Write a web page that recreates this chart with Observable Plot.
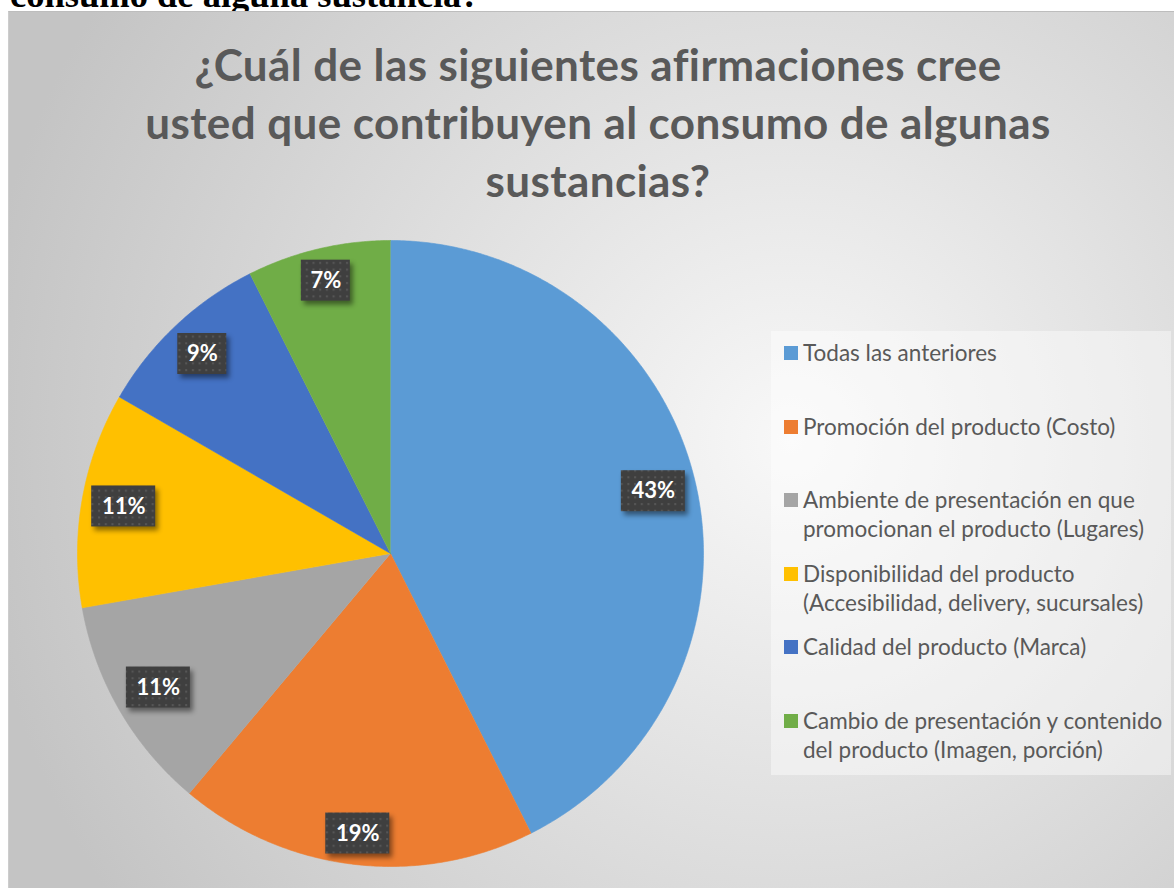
<!DOCTYPE html>
<html>
<head>
<meta charset="utf-8">
<script src="https://cdn.jsdelivr.net/npm/d3@7"></script>
<script src="https://cdn.jsdelivr.net/npm/@observablehq/plot@0.6"></script>
<style>
  html, body { margin: 0; padding: 0; background: #fff; width: 1174px; height: 888px; overflow: hidden; }
  #page { position: relative; width: 1174px; height: 888px; overflow: hidden; }
  #doc { position: absolute; left: 10px; top: -23px; font: bold 36.5px "Liberation Serif", "Times New Roman", serif; line-height: 36px; color: #000; white-space: nowrap; }
  #frame { position: absolute; left: 8px; top: 11px; width: 1180px; height: 890px;
    border-top: 1px solid #bdbdbd; border-left: 1px solid #cdcdcd;
    background: radial-gradient(circle 820px at 782px 429px, #f8f8f8 0%, #c4c4c4 100%); }
  #title { position: absolute; left: 0; top: 22.8px; width: 1178px; text-align: center;
    font: bold 44px Lato, sans-serif; letter-spacing: 0.4px; line-height: 58px; color: #595959; white-space: pre; }
  #chart { position: absolute; left: 0; top: 0; }
  #legend { position: absolute; left: 762px; top: 319px; width: 400px; height: 444px;
    background: rgba(255,255,255,0.42); }
  .item { position: absolute; left: 0; width: 400px; height: 73.6px; }
  .sw { position: absolute; left: 13px; top: 8px; width: 14px; height: 14px; }
  .lab { position: absolute; left: 32px; top: 0; font: 22.5px Lato, sans-serif; line-height: 29px; color: #595959; white-space: pre; }
  .pie-chart g[aria-label="rect"] { filter: drop-shadow(3px 4px 2.5px rgba(0,0,0,0.45)); }
</style>
</head>
<body>
<div id="page">
  <div id="doc">consumo de alguna sustancia?</div>
  <div id="frame">
    <div id="chart"></div>
    <div id="title"></div>
    <div id="legend"></div>
  </div>
</div>
<script>
// ---- data ----
const titleLines = [
  "¿Cuál de las siguientes afirmaciones cree",
  "usted que contribuyen al consumo de algunas",
  "sustancias?"
];
const categories = [
  "Todas las anteriores",
  "Promoción del producto (Costo)",
  "Ambiente de presentación en que\npromocionan el producto (Lugares)",
  "Disponibilidad del producto\n(Accesibilidad, delivery, sucursales)",
  "Calidad del producto (Marca)",
  "Cambio de presentación y contenido\ndel producto (Imagen, porción)"
];
const counts = [23, 10, 6, 6, 5, 4];
const colors = ["#5B9BD5", "#ED7D31", "#A5A5A5", "#FFC000", "#4472C4", "#70AD47"];

// ---- layout ----
const W = 1166, H = 877;
const CX = 381, CY = 541, R = 313;
const BOX_H = 41;
const boxWidth = s => (s.length >= 3 ? 64 : 49);
const LABEL_GAP = 7;

// ---- derived geometry (from data) ----
const total = d3.sum(counts);
const arcs = d3.pie().sort(null).value(d => d)(counts);
const slicePts = [];
arcs.forEach((a, i) => {
  slicePts.push({cat: categories[i], x: 0, y: 0});
  const n = Math.max(2, Math.ceil((a.endAngle - a.startAngle) / (Math.PI / 360)));
  for (let k = 0; k <= n; k++) {
    const t = a.startAngle + (a.endAngle - a.startAngle) * k / n;
    slicePts.push({cat: categories[i], x: Math.sin(t), y: Math.cos(t)});
  }
});
const labels = arcs.map((a, i) => {
  const label = Math.round(counts[i] / total * 100) + "%";
  const m = (a.startAngle + a.endAngle) / 2;
  const s = Math.sin(m), c = Math.cos(m);
  const hw = boxWidth(label) / 2, hh = BOX_H / 2;
  const d = (R - LABEL_GAP - (hw * Math.abs(s) + hh * Math.abs(c))) / R;
  const x = d * s, y = d * c;
  return {label, x, y, x1: x - hw / R, x2: x + hw / R, y1: y - hh / R, y2: y + hh / R};
});

// ---- chart ----
const chart = Plot.plot({
  width: W, height: H,
  marginTop: 0, marginRight: 0, marginBottom: 0, marginLeft: 0,
  className: "pie-chart",
  style: {background: "transparent", overflow: "visible"},
  x: {domain: [-1, 1], range: [CX - R, CX + R], axis: null},
  y: {domain: [-1, 1], range: [CY + R, CY - R], axis: null},
  color: {domain: categories, range: colors},
  marks: [
    Plot.line(slicePts, {x: "x", y: "y", z: "cat", fill: "cat", stroke: "cat", strokeWidth: 0.6, strokeLinejoin: "miter"}),
    Plot.rect(labels, {x1: "x1", x2: "x2", y1: "y1", y2: "y2", fill: "url(#dots)"}),
    Plot.text(labels, {x: "x", y: "y", text: "label", fill: "white", fontSize: 22, fontWeight: "bold", fontFamily: "Lato, sans-serif"})
  ]
});
// pattern for label boxes
const defs = d3.select(chart).insert("defs", ":first-child");
const pat = defs.append("pattern").attr("id", "dots").attr("patternUnits", "userSpaceOnUse")
  .attr("width", 6.7).attr("height", 6.7);
pat.append("rect").attr("width", 6.7).attr("height", 6.7).attr("fill", "#3f3f3f");
pat.append("rect").attr("x", 2).attr("y", 2).attr("width", 2).attr("height", 2).attr("fill", "#575757");
document.getElementById("chart").appendChild(chart);

// ---- title ----
document.getElementById("title").textContent = titleLines.join("\n");

// ---- legend ----
const legend = d3.select("#legend");
const ITEM_STEP = 73.6, ITEM_TOP = 7;
categories.forEach((c, i) => {
  const it = legend.append("div").attr("class", "item").style("top", (ITEM_TOP + i * ITEM_STEP) + "px");
  it.append("div").attr("class", "sw").style("background", colors[i]);
  it.append("div").attr("class", "lab").text(c);
});
</script>
</body>
</html>
